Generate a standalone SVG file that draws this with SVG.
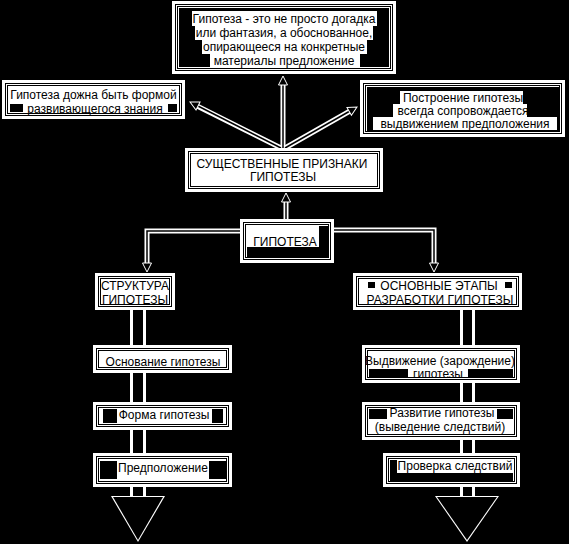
<svg xmlns="http://www.w3.org/2000/svg" width="569" height="544" viewBox="0 0 569 544">
<defs>
<marker id="ah" markerUnits="userSpaceOnUse" markerWidth="14" markerHeight="14" viewBox="-2 -2 14 14" refX="9" refY="4.5" orient="auto">
<path d="M0,0 L9,4.5 L0,9 z" fill="#000" stroke="#fff" stroke-width="1"/>
</marker>
</defs>
<style>
.t{font-family:"Liberation Sans",Arial,sans-serif;font-size:12px;fill:#000;text-anchor:middle}
.halo{fill:#fff}
.fr{fill:none;stroke:#000;stroke-width:1}
.hl{fill:#fff}
.bk{fill:#000}
.lh{fill:none;stroke:#fff;stroke-width:5}
.ln{fill:none;stroke:#000;stroke-width:1.5}
.bh{fill:#fff}
</style>
<rect x="0" y="0" width="569" height="544" fill="#000"/>

<g id="connectors">
<rect class="bh" x="130" y="308" width="16" height="191"/>
<rect class="bk" x="133" y="308" width="10" height="191"/>
<polygon points="111,496 165,496 138,542" fill="#fff"/>
<polygon points="113,497 163,497 138,540" fill="#000"/>
<rect class="bh" x="460" y="308" width="15" height="191"/>
<rect class="bk" x="463" y="308" width="9" height="191"/>
<polygon points="435,496 499,496 467,542" fill="#fff"/>
<polygon points="437,497 497,497 467,540" fill="#000"/>
<line class="lh" x1="286" y1="220" x2="286" y2="200"/>
<line class="ln" x1="286" y1="220" x2="286" y2="193" marker-end="url(#ah)"/>
<line class="lh" x1="283" y1="148" x2="283" y2="84"/>
<line class="ln" x1="283" y1="148" x2="283" y2="76" marker-end="url(#ah)"/>
<line class="lh" x1="281" y1="148" x2="197" y2="106"/>
<line class="ln" x1="281" y1="148" x2="190" y2="102" marker-end="url(#ah)"/>
<line class="lh" x1="285" y1="148" x2="350" y2="111"/>
<line class="ln" x1="285" y1="148" x2="357" y2="107" marker-end="url(#ah)"/>
<polyline class="lh" points="241,231 147,231 147,264"/>
<polyline class="ln" points="241,231 147,231 147,272" marker-end="url(#ah)"/>
<polyline class="lh" points="332,230 434,230 434,264"/>
<polyline class="ln" points="332,230 434,230 434,272" marker-end="url(#ah)"/>
</g>

<g id="n-top">
<rect class="halo" x="172" y="1" width="224" height="73"/>
<rect class="fr" x="175.5" y="4.5" width="217" height="66"/>
<rect class="fr" x="177.5" y="6.5" width="213" height="62"/>
<rect class="bk" x="179" y="8" width="210" height="59"/>
<rect class="hl" x="192" y="11" width="185" height="15"/>
<rect class="hl" x="195" y="26" width="178" height="14"/>
<rect class="hl" x="202" y="40" width="165" height="14"/>
<rect class="hl" x="210" y="54" width="150" height="14"/>
<text class="t" x="284" y="22.5">Гипотеза - это не просто догадка</text>
<text class="t" x="284" y="37">или фантазия, а обоснованное,</text>
<text class="t" x="284" y="51">опирающееся на конкретные</text>
<text class="t" x="284" y="65">материалы предложение</text>
</g>

<g id="n-left">
<rect class="halo" x="2" y="80" width="183" height="39"/>
<rect class="fr" x="5.5" y="83.5" width="176" height="32"/>
<rect class="fr" x="7.5" y="85.5" width="172" height="28"/>
<rect class="bk" x="10" y="104" width="13" height="8"/>
<rect class="bk" x="168" y="104" width="9" height="8"/>
<text class="t" x="93.5" y="99">Гипотеза дожна быть формой</text>
<text class="t" x="95" y="112.5">развивающегося знания</text>
</g>

<g id="n-right">
<rect class="halo" x="360" y="80" width="205" height="57"/>
<rect class="fr" x="363.5" y="83.5" width="198" height="50"/>
<rect class="fr" x="365.5" y="85.5" width="194" height="46"/>
<rect class="bk" x="367" y="87" width="192" height="44"/>
<rect class="hl" x="400" y="91" width="123" height="13"/>
<rect class="hl" x="393" y="104" width="134" height="13"/>
<rect class="hl" x="373" y="117" width="184" height="13"/>
<text class="t" x="463" y="101.5">Построение гипотезы</text>
<text class="t" x="463" y="114.5">всегда сопровождается</text>
<text class="t" x="465" y="127.5">выдвижением предположения</text>
</g>

<g id="n-signs">
<rect class="halo" x="185" y="148" width="198" height="44"/>
<rect class="fr" x="188.5" y="151.5" width="191" height="37"/>
<rect class="fr" x="190.5" y="153.5" width="187" height="33"/>
<text class="t" x="282" y="168">СУЩЕСТВЕННЫЕ ПРИЗНАКИ</text>
<text class="t" x="283" y="181">ГИПОТЕЗЫ</text>
</g>

<g id="n-hyp">
<rect class="halo" x="240" y="219" width="94" height="44"/>
<rect class="fr" x="243.5" y="222.5" width="87" height="37"/>
<rect class="fr" x="245.5" y="224.5" width="83" height="33"/>
<rect class="bk" x="247" y="247" width="81" height="10"/>
<rect class="bk" x="319" y="226" width="9" height="31"/>
<text class="t" x="285" y="245.5">ГИПОТЕЗА</text>
</g>

<g id="n-struct">
<rect class="halo" x="95" y="273" width="80" height="37"/>
<rect class="fr" x="98.5" y="276.5" width="73" height="30"/>
<rect class="fr" x="100.5" y="278.5" width="69" height="26"/>
<text class="t" x="135" y="290">СТРУКТУРА</text>
<text class="t" x="135" y="303.5">ГИПОТЕЗЫ</text>
</g>

<g id="n-stages">
<rect class="halo" x="353" y="273" width="169" height="37"/>
<rect class="fr" x="356.5" y="276.5" width="162" height="30"/>
<rect class="fr" x="358.5" y="278.5" width="158" height="26"/>
<rect class="bk" x="368" y="282" width="7" height="6"/>
<rect class="bk" x="505" y="282" width="7" height="6"/>
<text class="t" x="439" y="290">ОСНОВНЫЕ ЭТАПЫ</text>
<text class="t" x="440" y="303.5">РАЗРАБОТКИ ГИПОТЕЗЫ</text>
</g>

<g id="n-basis">
<rect class="halo" x="93" y="345" width="139" height="28"/>
<rect class="fr" x="96.5" y="348.5" width="132" height="21"/>
<rect class="fr" x="98.5" y="350.5" width="128" height="17"/>
<text class="t" x="163" y="366">Основание гипотезы</text>
</g>

<g id="n-form">
<rect class="halo" x="93" y="402" width="139" height="28"/>
<rect class="fr" x="96.5" y="405.5" width="132" height="21"/>
<rect class="fr" x="98.5" y="407.5" width="128" height="17"/>
<rect class="bk" x="103" y="409" width="14" height="14"/>
<rect class="bk" x="212" y="409" width="11" height="14"/>
<text class="t" x="164" y="419">Форма гипотезы</text>
</g>

<g id="n-assume">
<rect class="halo" x="93" y="453" width="139" height="34"/>
<rect class="fr" x="96.5" y="456.5" width="132" height="27"/>
<rect class="fr" x="98.5" y="458.5" width="128" height="23"/>
<rect class="bk" x="100" y="461" width="17" height="18"/>
<rect class="bk" x="209" y="461" width="17" height="18"/>
<text class="t" x="163" y="472">Предположение</text>
</g>

<g id="n-advance">
<rect class="halo" x="362" y="345" width="158" height="38"/>
<rect class="fr" x="365.5" y="348.5" width="151" height="31"/>
<rect class="fr" x="367.5" y="350.5" width="147" height="27"/>
<rect class="bk" x="369" y="369" width="39" height="9"/>
<rect class="bk" x="468" y="369" width="45" height="9"/>
<text class="t" x="440" y="364.5">Выдвижение (зарождение)</text>
<text class="t" x="438" y="377.5">гипотезы</text>
</g>

<g id="n-develop">
<rect class="halo" x="362" y="402" width="158" height="38"/>
<rect class="fr" x="365.5" y="405.5" width="151" height="31"/>
<rect class="fr" x="367.5" y="407.5" width="147" height="27"/>
<rect class="bk" x="369" y="409" width="18" height="10"/>
<rect class="bk" x="497" y="409" width="16" height="10"/>
<text class="t" x="442" y="417">Развитие гипотезы</text>
<text class="t" x="440" y="431">(выведение следствий)</text>
</g>

<g id="n-check">
<rect class="halo" x="383" y="453" width="137" height="34"/>
<rect class="fr" x="386.5" y="456.5" width="130" height="27"/>
<rect class="fr" x="388.5" y="458.5" width="126" height="23"/>
<rect class="bk" x="390" y="460" width="7" height="13"/>
<rect class="bk" x="390" y="473" width="123" height="8"/>
<text class="t" x="455" y="470">Проверка следствий</text>
</g>
</svg>
